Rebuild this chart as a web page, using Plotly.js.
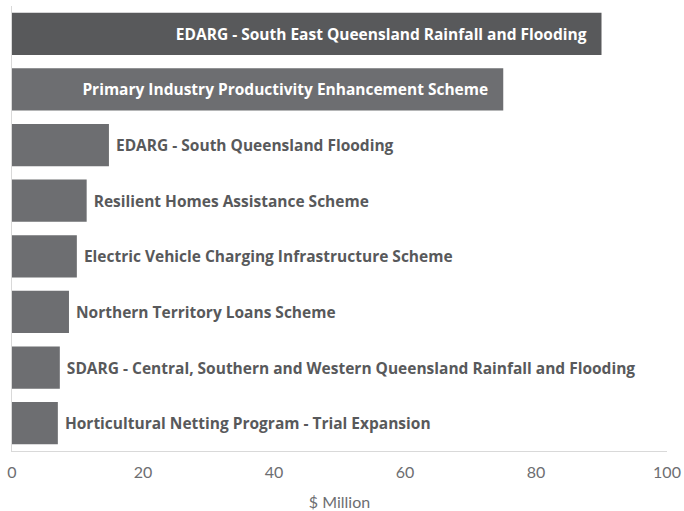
<!DOCTYPE html>
<html>
<head>
<meta charset="utf-8">
<script src="https://cdn.plot.ly/plotly-3.0.1.min.js"></script>
<style>html,body{margin:0;padding:0;background:#fff;}#chart{width:684px;height:511px;}</style>
</head>
<body>
<div id="chart"></div>
<script>
const categories = [
  "EDARG - South East Queensland Rainfall and Flooding",
  "Primary Industry Productivity Enhancement Scheme",
  "EDARG - South Queensland Flooding",
  "Resilient Homes Assistance Scheme",
  "Electric Vehicle Charging Infrastructure Scheme",
  "Northern Territory Loans Scheme",
  "SDARG - Central, Southern and Western Queensland Rainfall and Flooding",
  "Horticultural Netting Program - Trial Expansion"
];
const values = [90, 75, 14.8, 11.4, 9.9, 8.7, 7.3, 7.0];
const xTicks = [0, 20, 40, 60, 80, 100];

const positions = values.map(v => v > 50 ? 'inside' : 'outside');
const labels = categories.map((c, i) => positions[i] === 'inside' ? c + '\u00a0\u00a0\u00a0' : '\u00a0' + c);
const colors = values.map((v, i) => i === 0 ? '#58595b' : '#6d6e71');

const trace = {
  type: 'bar',
  orientation: 'h',
  y: categories,
  x: values,
  text: labels,
  textposition: positions,
  insidetextanchor: 'end',
  constraintext: 'none',
  cliponaxis: false,
  insidetextfont: {family: '"Open Sans", sans-serif', size: 15.5, color: '#ffffff', weight: 700},
  outsidetextfont: {family: '"Open Sans", sans-serif', size: 15.5, color: '#58595b', weight: 700},
  marker: {color: colors},
  hoverinfo: 'none'
};

const layout = {
  width: 684, height: 511,
  margin: {l: 12, r: 17, t: 6, b: 60},
  paper_bgcolor: '#ffffff', plot_bgcolor: '#ffffff',
  bargap: 0.24,
  showlegend: false,
  xaxis: {
    range: [0, 100],
    tickvals: xTicks,
    ticktext: xTicks.map(String),
    showgrid: false, zeroline: false,
    showline: true, linecolor: '#d9d9d9', linewidth: 1,
    ticks: '', ticklen: 0,
    ticklabelstandoff: 7,
    tickfont: {family: 'Lato, sans-serif', size: 16, color: '#6d6e71'},
    title: {text: '$ Million', font: {family: 'Lato, sans-serif', size: 16, color: '#6d6e71'}, standoff: 16},
    fixedrange: true
  },
  yaxis: {
    autorange: 'reversed',
    showticklabels: false,
    showgrid: false, zeroline: false,
    showline: true, linecolor: '#d9d9d9', linewidth: 1,
    ticks: '',
    fixedrange: true
  },
  font: {family: 'Lato, sans-serif', color: '#58595b'}
};

Plotly.newPlot('chart', [trace], layout, {displayModeBar: false, staticPlot: true});
</script>
</body>
</html>
